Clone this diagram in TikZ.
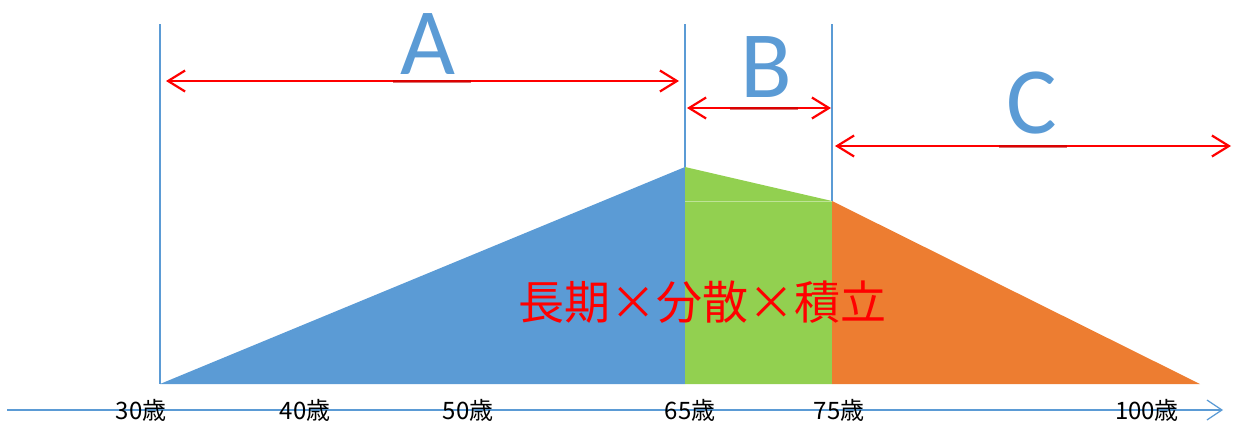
\documentclass[tikz,border=0pt]{standalone}
\usepackage{fontspec}
\newfontfamily\cjk{Noto Sans CJK JP}
\newfontfamily\latf{Carlito}
\usetikzlibrary{arrows.meta}
\definecolor{cblue}{HTML}{5B9BD5}
\definecolor{cgreen}{HTML}{92D050}
\definecolor{corange}{HTML}{ED7D31}
\definecolor{cred}{HTML}{FF0000}
\tikzset{
  vline/.style={draw=cblue, line width=1.5pt},
  span/.style={draw=cred, line width=2.2pt, {Straight Barb[length=17pt,width=21pt]}-{Straight Barb[length=17pt,width=21pt]}},
  shade/.style={draw=cred!75!black, line width=3pt, opacity=0.55},
  letter/.style={text=cblue, font=\latf\fontsize{95}{95}\selectfont, inner sep=0pt},
  agelabel/.style={text=black, font=\cjk\fontsize{24}{24}\selectfont, inner sep=0pt},
  axisline/.style={draw=cblue, line width=1.2pt, -{Straight Barb[length=15pt,width=20pt]}}
}
\begin{document}
\begin{tikzpicture}[x=1pt,y=-1pt]
\useasboundingbox (0,0) rectangle (1235,421);
% key coordinates
\coordinate (t30) at (160,24);
\coordinate (b30) at (160,384);
\coordinate (t65) at (685,24);
\coordinate (p65) at (685,167);
\coordinate (b65) at (685,384);
\coordinate (t75) at (832,24);
\coordinate (p75) at (832,201);
\coordinate (b75) at (832,384);
\coordinate (b100) at (1200,384);
% vertical lines
\draw[vline] (t30) -- (b30);
\draw[vline] (t65) -- (p65);
\draw[vline] (t75) -- (p75);
% fills
\fill[cblue] (b30) -- (p65) -- (b65) -- cycle;
\fill[cgreen] (b65) -- (p65) -- (p75) -- (b75) -- cycle;
\fill[corange] (b75) -- (p75) -- (b100) -- cycle;
\coordinate (g1) at (685,201);
\draw[cgreen!60!white, line width=1pt] (g1) -- (p75);
% axis
\coordinate (ax0) at (7,410);
\coordinate (ax1) at (1223,410);
\draw[axisline] (ax0) -- (ax1);
% age labels
\node[agelabel] (l30) at (141,410) {30歳};
\node[agelabel] (l40) at (305,410) {40歳};
\node[agelabel] (l50) at (468,410) {50歳};
\node[agelabel] (l65) at (690,410) {65歳};
\node[agelabel] (l75) at (839,410) {75歳};
\node[agelabel] (l100) at (1147,410) {100歳};
% span arrows
\coordinate (aL) at (166,81);
\coordinate (aR) at (679,81);
\coordinate (bL) at (687,108);
\coordinate (bR) at (831,108);
\coordinate (cL) at (835,146);
\coordinate (cR) at (1231,146);
\draw[span] (aL) -- (aR);
\draw[span] (bL) -- (bR);
\draw[span] (cL) -- (cR);
\coordinate (sa1) at (393,81); \coordinate (sa2) at (471,81);
\coordinate (sb1) at (730,108); \coordinate (sb2) at (798,108);
\coordinate (sc1) at (999,146); \coordinate (sc2) at (1067,146);
\draw[shade] (sa1) -- (sa2);
\draw[shade] (sb1) -- (sb2);
\draw[shade] (sc1) -- (sc2);
% letters
\node[letter] (A) at (428,44) {A};
\node[letter] (B) at (766,67) {B};
\node[letter] (C) at (1032,103) {C};
% central text
\node[text=cred, font=\cjk\fontsize{46}{46}\selectfont, inner sep=0pt] (main) at (702,302) {長期×分散×積立};
\end{tikzpicture}
\end{document}
